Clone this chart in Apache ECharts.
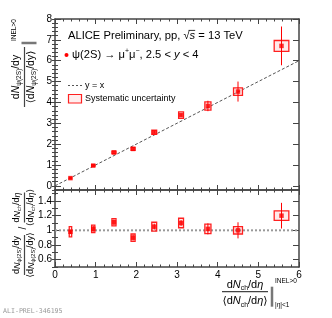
<!DOCTYPE html>
<html><head><meta charset="utf-8">
<script src="https://cdn.jsdelivr.net/npm/echarts@6/dist/echarts.min.js"></script>
<style>html,body{margin:0;padding:0;background:#fff}#c{width:332px;height:318px}</style>
</head><body><div id="c"></div>
<script>
// ---- data ----
const xVals     = [0.38, 0.94, 1.45, 1.92, 2.44, 3.10, 3.76, 4.50, 5.57];
const yVals     = [0.37, 0.97, 1.60, 1.77, 2.57, 3.39, 3.83, 4.52, 6.71];
const yStat     = [0.02, 0.03, 0.04, 0.05, 0.06, 0.08, 0.25, 0.48, 0.93];
const ySys      = [0.04, 0.04, 0.06, 0.07, 0.10, 0.16, 0.20, 0.18, 0.26];
const xSys      = [0.03, 0.04, 0.05, 0.05, 0.06, 0.06, 0.075, 0.11, 0.18];
const ratio     = [0.98, 1.02, 1.11, 0.90, 1.05, 1.10, 1.02, 1.00, 1.20];
const ratioStat = [0.03, 0.04, 0.04, 0.04, 0.04, 0.04, 0.075, 0.11, 0.175];
const ratioSys  = [0.07, 0.05, 0.05, 0.05, 0.06, 0.065, 0.065, 0.05, 0.065];
const refX      = [0, 6];
const xTicks    = [0, 1, 2, 3, 4, 5, 6];
const yTopTicks = [0, 1, 2, 3, 4, 5, 6, 7, 8];
const yBotTicks = [0.6, 0.8, 1.0, 1.2, 1.4];

// ---- helpers ----
const FONT = '"Liberation Sans", "DejaVu Sans", sans-serif';
const ctx = document.createElement('canvas').getContext('2d');
function fnt(p){ return (p.i ? 'italic ' : '') + p.s + 'px ' + FONT; }
function layout(parts, x0, y0, align, fill){
  let total = 0;
  parts.forEach(p => { ctx.font = fnt(p); p.w = ctx.measureText(p.t).width; total += p.w; });
  let cur = align === 'center' ? x0 - total / 2 : x0;
  const els = [];
  parts.forEach(p => {
    els.push({type:'text', x:cur, y:y0 + (p.dy || 0), silent:true,
      style:{text:p.t, font:fnt(p), fill:fill || '#000', textAlign:'left', textVerticalAlign:'middle', align:'left', verticalAlign:'middle'}});
    if (p.over) els.push({type:'line', silent:true, shape:{x1:cur - 1, y1:y0 - p.s * 0.5, x2:cur + p.w, y2:y0 - p.s * 0.5}, style:{stroke:fill || '#000', lineWidth:0.8}});
    cur += p.w;
  });
  return els;
}
const T = (t, s, i) => ({t, s, i});
const Sub = (t, B, i) => ({t, s:+(0.62 * B).toFixed(2), dy:0.32 * B, i});
const Sup = (t, B) => ({t, s:+(0.62 * B).toFixed(2), dy:-0.38 * B});
const psiNum = B => [T('d', B), T('N', B, 1), Sub('ψ(2S)', B), T('/d', B), T('y', B)];
const psiDen = B => [T('⟨', B), ...psiNum(B), T('⟩', B)];
const chNum  = B => [T('d', B), T('N', B, 1), Sub('ch', B), T('/d', B), T('η', B, 1)];
const chDen  = B => [T('⟨', B), ...chNum(B), T('⟩', B)];
function frac(num, den, cx, numY, denY, half){
  return [
    ...layout(num, cx, numY, 'center'),
    ...layout(den, cx, denY, 'center'),
    {type:'line', silent:true, shape:{x1:cx - half, y1:0, x2:cx + half, y2:0}, style:{stroke:'#444', lineWidth:1.2}}
  ];
}
const evalBar = (x, y1, y2) => ({type:'line', silent:true, shape:{x1:x, y1:y1, x2:x, y2:y2}, style:{stroke:'#777', lineWidth:2.5}});

// ---- axes ----
const AX = '#444';
function xAx(grid, pos, labels){
  return {type:'value', gridIndex:grid, position:pos, min:0, max:6, interval:1,
    axisLine:{show:true, onZero:false, lineStyle:{color:AX, width:1.5}},
    axisTick:{show:true, inside:true, length:5, lineStyle:{color:AX}},
    minorTick:{show:true, splitNumber:5, length:2.5, lineStyle:{color:AX}},
    axisLabel:{show:labels, fontSize:10, color:'#000', margin:3, fontFamily:FONT},
    splitLine:{show:false}, minorSplitLine:{show:false}};
}
function yMajor(grid, pos, min, max, ticks, labels){
  return {type:'value', gridIndex:grid, position:pos, min:min, max:max,
    axisLine:{show:true, onZero:false, lineStyle:{color:AX, width:1.5}},
    axisTick:{show:true, inside:true, length:6, customValues:ticks, lineStyle:{color:AX}},
    axisLabel:{show:labels, customValues:ticks, fontSize:10, color:'#000', margin:3, fontFamily:FONT},
    splitLine:{show:false}};
}
function yMinor(grid, pos, min, max, iv){
  return {type:'value', gridIndex:grid, position:pos, min:min, max:max, interval:iv,
    axisLine:{show:false}, axisTick:{show:true, inside:true, length:3, lineStyle:{color:AX}},
    axisLabel:{show:false}, splitLine:{show:false}};
}

const boxStyle = {stroke:'#ff2020', lineWidth:1.3, fill:'rgba(255,90,90,0.13)'};
function boxSeries(xi, yi, xs, ys, xe, ye){
  return {type:'custom', xAxisIndex:xi, yAxisIndex:yi, clip:true, z:3,
    data: xs.map((x, k) => [x, ys[k], xe[k], ye[k]]),
    encode:{x:0, y:1},
    renderItem:(params, api) => {
      const x = api.value(0), y = api.value(1), dx = api.value(2), dy = api.value(3);
      const a = api.coord([x - dx, y + dy]), b = api.coord([x + dx, y - dy]);
      return {type:'rect', shape:{x:a[0], y:a[1], width:b[0] - a[0], height:b[1] - a[1]}, style:boxStyle};
    }};
}
function statSeries(xi, yi, xs, ys, e){
  return {type:'custom', xAxisIndex:xi, yAxisIndex:yi, clip:true, z:4,
    data: xs.map((x, k) => [x, ys[k], e[k]]),
    encode:{x:0, y:1},
    renderItem:(params, api) => {
      const x = api.value(0), y = api.value(1), d = api.value(2);
      const a = api.coord([x, y - d]), b = api.coord([x, y + d]);
      return {type:'line', shape:{x1:a[0], y1:a[1], x2:b[0], y2:b[1]}, style:{stroke:'#ff0000', lineWidth:1}};
    }};
}
function pts(xi, yi, xs, ys){
  return {type:'scatter', xAxisIndex:xi, yAxisIndex:yi, z:5, symbol:'rect', symbolSize:4.5,
    itemStyle:{color:'#ff0000'}, data: xs.map((x, k) => [x, ys[k]])};
}

// ---- graphics ----
const graphics = [];
// title texts
graphics.push(...layout([T('ALICE Preliminary, pp, ', 11.2), T('√', 11.2), {t:'s', s:11.2, i:1, over:true}, T(' = 13 TeV', 11.2)], 68, 36, 'left'));
graphics.push({type:'circle', silent:true, shape:{cx:66.5, cy:55, r:2}, style:{fill:'#ff0000'}});
graphics.push(...layout([T('ψ(2S) → μ', 11.2), Sup('+', 11.2), T('μ', 11.2), Sup('−', 11.2), T(', 2.5 < ', 11.2), T('y', 11.2, 1), T(' < 4', 11.2)], 72, 55, 'left'));
// legend
graphics.push({type:'line', silent:true, shape:{x1:68, y1:85.5, x2:82, y2:85.5}, style:{stroke:'#555', lineWidth:1, lineDash:[2, 2]}});
graphics.push(...layout([T('y = x', 9)], 85, 85.5, 'left'));
graphics.push({type:'rect', silent:true, shape:{x:68.5, y:94.5, width:13, height:8.5}, style:{stroke:'#ff2020', lineWidth:1.2, fill:'rgba(255,90,90,0.1)'}});
graphics.push(...layout([T('Systematic uncertainty', 9)], 85, 98.5, 'left'));
// top y title (rotated)
graphics.push({type:'group', x:24.5, y:77, rotation:Math.PI / 2, children:[
  ...frac(psiNum(10.5), psiDen(10.5), 0, -8.5, 6.5, 30),
  evalBar(34, -3, 12),
  ...layout([T('INEL>0', 6.5)], 36, -10, 'left')
]});
// bottom y title (rotated)
graphics.push({type:'group', x:24.5, y:234, rotation:Math.PI / 2, children:[
  ...frac(psiNum(9), psiDen(9), -21, -7.5, 6.5, 20),
  ...layout([T('/', 10)], 6, -1, 'center'),
  ...frac(chNum(9), chDen(9), 26.5, -7.5, 6.5, 15)
]});
// x title
graphics.push({type:'group', x:245, y:291.7, children:[
  ...frac(chNum(11), chDen(11), 0, -7, 9.5, 23),
  evalBar(27, -5, 15),
  ...layout([T('INEL>0', 6.5)], 30, -10, 'left'),
  ...layout([T('|', 6.5), T('η', 6.5, 1), T('|<1', 6.5)], 30, 13.5, 'left')
]});
// watermark
graphics.push({type:'text', x:3, y:311, silent:true, style:{text:'ALI-PREL-346195', font:'6.6px "DejaVu Sans Mono", monospace', fill:'#999', textVerticalAlign:'middle', verticalAlign:'middle'}});

const option = {
  animation:false,
  backgroundColor:'#fff',
  grid:[{left:55, right:33, top:19, height:171}, {left:55, right:33, top:190, height:77}],
  xAxis:[xAx(0, 'bottom', false), xAx(0, 'top', false), xAx(1, 'top', false), xAx(1, 'bottom', true)],
  yAxis:[
    yMajor(0, 'left', -0.2, 8, yTopTicks, true), yMinor(0, 'left', -0.2, 8, 0.2),
    yMajor(0, 'right', -0.2, 8, yTopTicks, false), yMinor(0, 'right', -0.2, 8, 0.2),
    yMajor(1, 'left', 0.5, 1.55, yBotTicks, true), yMinor(1, 'left', 0.5, 1.55, 0.1),
    yMajor(1, 'right', 0.5, 1.55, yBotTicks, false), yMinor(1, 'right', 0.5, 1.55, 0.1)
  ],
  series:[
    {type:'line', xAxisIndex:0, yAxisIndex:0, symbol:'none', silent:true, z:2,
      lineStyle:{color:'#555', width:1, type:[3, 2]}, data: refX.map(v => [v, v])},
    boxSeries(0, 0, xVals, yVals, xSys, ySys),
    statSeries(0, 0, xVals, yVals, yStat),
    pts(0, 0, xVals, yVals),
    {type:'line', xAxisIndex:3, yAxisIndex:4, symbol:'none', silent:true, z:2,
      lineStyle:{color:'#999', width:2, type:[2, 2]}, data: refX.map(v => [v, 1])},
    boxSeries(3, 4, xVals, ratio, xSys, ratioSys),
    statSeries(3, 4, xVals, ratio, ratioStat),
    pts(3, 4, xVals, ratio)
  ],
  graphic: graphics
};
const chart = echarts.init(document.getElementById('c'), null, {renderer:'canvas'});
chart.setOption(option);
</script></body></html>
